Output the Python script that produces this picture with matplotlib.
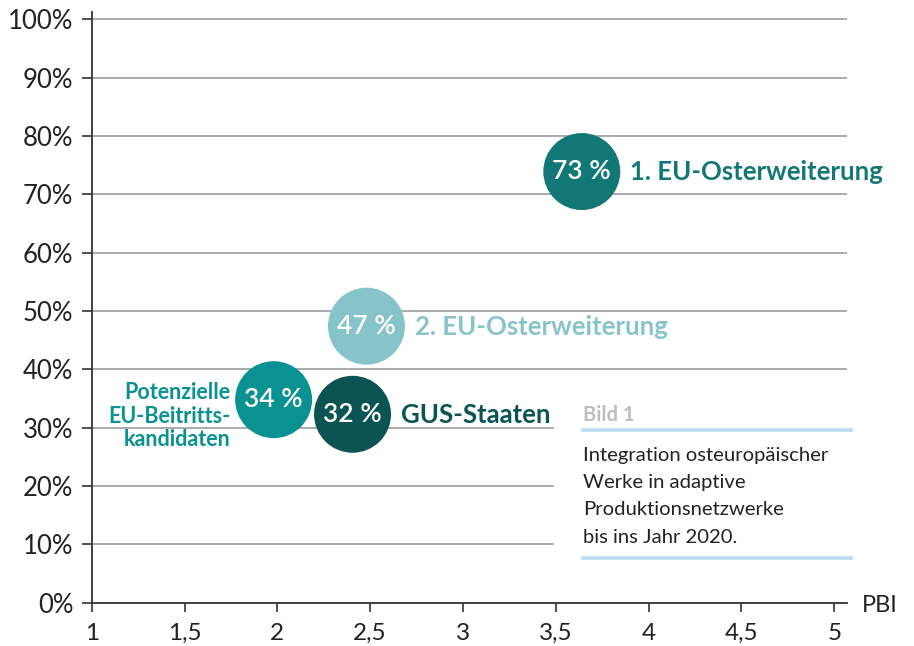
import matplotlib.pyplot as plt
from matplotlib.lines import Line2D

plt.rcParams['font.family'] = ['Lato', 'DejaVu Sans']

# Regionen, PBI (x) und Anteil (y, Position im Diagramm)
regionen = ['1. EU-Osterweiterung', '2. EU-Osterweiterung',
            'Potenzielle\nEU-Beitritts-\nkandidaten', 'GUS-Staaten']
pbi = [3.64, 2.48, 1.98, 2.405]
anteil = [73.9, 47.4, 34.8, 32.3]
anteil_text = ['73 %', '47 %', '34 %', '32 %']
farben = ['#127876', '#86C4CA', '#0A9192', '#0B5453']
seite = ['rechts', 'rechts', 'links', 'rechts']

x_ticks = [1, 1.5, 2, 2.5, 3, 3.5, 4, 4.5, 5]
x_labels = ['1', '1,5', '2', '2,5', '3', '3,5', '4', '4,5', '5']
y_ticks = [0, 10, 20, 30, 40, 50, 60, 70, 80, 90, 100]

bild_titel = 'Bild 1'
bild_text = 'Integration osteuropäischer\nWerke in adaptive\nProduktionsnetzwerke\nbis ins Jahr 2020.'

fig = plt.figure(figsize=(9.14, 6.46), dpi=100)
ax = fig.add_axes([91.7 / 914, 43.3 / 646, 755 / 914, 591 / 646])
ax.set_xlim(1, 5.067)
ax.set_ylim(0, 101.3)

# Gitterlinien (unten rechts vom Textkasten unterbrochen)
for y in y_ticks[1:]:
    xend = 3.485 if y <= 30 else 5.067
    ax.plot([1, xend], [y, y], color='#9c9c9c', lw=1.2, zorder=1)

for s in ['top', 'right']:
    ax.spines[s].set_visible(False)
for s in ['left', 'bottom']:
    ax.spines[s].set_color('#333333')
    ax.spines[s].set_linewidth(1.3)

ax.set_xticks(x_ticks)
ax.set_xticklabels(x_labels)
ax.set_yticks(y_ticks)
ax.set_yticklabels([f'{v}%' for v in y_ticks])
ax.tick_params(axis='x', length=6.5, width=1.2, color='#333333', pad=8,
               labelsize=17.5, labelcolor='#222222')
ax.tick_params(axis='y', length=7.2, width=1.2, color='#333333', pad=6,
               labelsize=18.5, labelcolor='#222222')

ax.scatter(pbi, anteil, s=3070, c=farben, edgecolors='none', zorder=3)

for x, y, t, name, f, sd in zip(pbi, anteil, anteil_text, regionen, farben, seite):
    ax.text(x, y, t, color='white', fontsize=19, fontweight='semibold',
            ha='center', va='center', zorder=4)
    if sd == 'rechts':
        ax.annotate(name, (x, y), xytext=(35, -6.2), textcoords='offset points',
                    color=f, fontsize=18.5, fontweight='bold',
                    ha='left', va='baseline', zorder=4)
    else:
        ax.annotate(name, (x, y), xytext=(-31, 12.7), textcoords='offset points',
                    color=f, fontsize=15.5, fontweight='bold',
                    ha='right', va='top', multialignment='right',
                    linespacing=1.15, zorder=4)

fig.text(861.7 / 914, 1 - 611.7 / 646, 'PBI', fontsize=17, color='#222222',
         ha='left', va='baseline')

# Textkasten
fig.text(583.3 / 914, 1 - 420.7 / 646, bild_titel, fontsize=14.5,
         fontweight='bold', color='#bdbdbd', ha='left', va='baseline')
fig.text(583.3 / 914, 1 - 447 / 646, bild_text, fontsize=14.6,
         color='#222222', ha='left', va='top', linespacing=1.73)
for yl in [430, 558.3]:
    fig.add_artist(Line2D([583 / 914, 851 / 914], [1 - yl / 646, 1 - yl / 646],
                          color='#b9dcf1', lw=2.6))

fig.savefig('out.png', dpi=100)
